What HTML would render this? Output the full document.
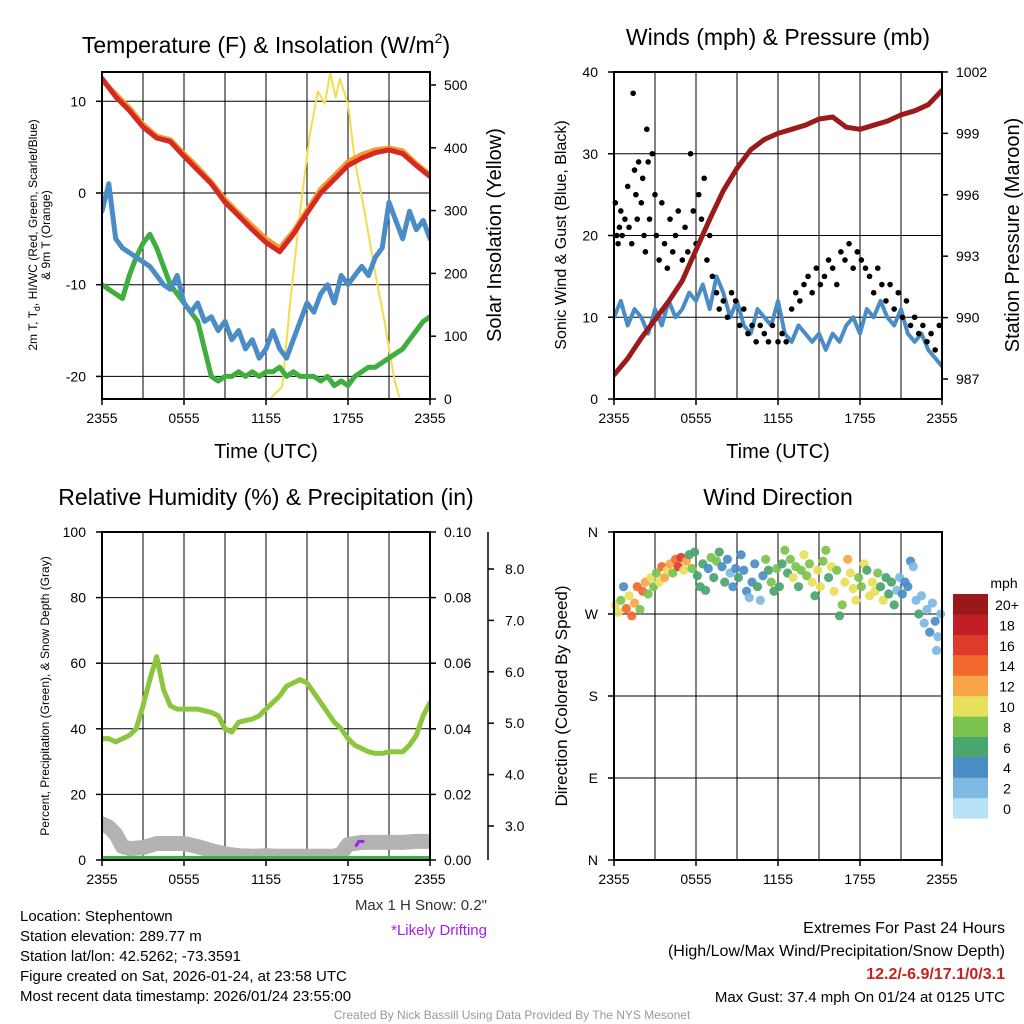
<!DOCTYPE html>
<html><head><meta charset="utf-8"><style>
html,body{margin:0;padding:0;background:#fff;}
svg{display:block;font-family:"Liberation Sans",sans-serif;}
</style></head><body>
<svg id="fig" width="1024" height="1024" viewBox="0 0 1024 1024" xmlns="http://www.w3.org/2000/svg">
<rect width="1024" height="1024" fill="#fff"/>
<g id="grid"></g>
<g id="marks"></g>
<g id="axes" fill="#000"></g>
<g text-anchor="middle" fill="#000">
<text x="266" y="53" font-size="23">Temperature (F) &amp; Insolation (W/m<tspan font-size="14" dy="-10">2</tspan><tspan dy="10">)</tspan></text>
<text x="778" y="45" font-size="23">Winds (mph) &amp; Pressure (mb)</text>
<text x="266" y="505" font-size="23">Relative Humidity (%) &amp; Precipitation (in)</text>
<text x="778" y="505" font-size="23">Wind Direction</text>
<text x="266" y="458" font-size="20">Time (UTC)</text>
<text x="778" y="458" font-size="20">Time (UTC)</text>
<text transform="translate(37,235) rotate(-90)" font-size="12">2m T, T<tspan font-size="9" dy="3">d</tspan><tspan dy="-3">, HI/WC (Red, Green, Scarlet/Blue)</tspan></text>
<text transform="translate(50,235) rotate(-90)" font-size="12">&amp; 9m T (Orange)</text>
<text transform="translate(501,235) rotate(-90)" font-size="20">Solar Insolation (Yellow)</text>
<text transform="translate(566,235) rotate(-90)" font-size="16">Sonic Wind &amp; Gust (Blue, Black)</text>
<text transform="translate(1019,235) rotate(-90)" font-size="20">Station Pressure (Maroon)</text>
<text transform="translate(49,696) rotate(-90)" font-size="12">Percent, Precipitation (Green), &amp; Snow Depth (Gray)</text>
<text transform="translate(567,696) rotate(-90)" font-size="17">Direction (Colored By Speed)</text>
</g>
<g font-size="15" fill="#000">
<text x="20" y="921">Location: Stephentown</text>
<text x="20" y="941">Station elevation: 289.77 m</text>
<text x="20" y="961">Station lat/lon: 42.5262; -73.3591</text>
<text x="20" y="981">Figure created on Sat, 2026-01-24, at 23:58 UTC</text>
<text x="20" y="1001">Most recent data timestamp: 2026/01/24 23:55:00</text>
</g>
<g font-size="15" text-anchor="end">
<text x="487" y="910" fill="#333">Max 1 H Snow: 0.2"</text>
<text x="487" y="935" fill="#a020f0">*Likely Drifting</text>
</g>
<g font-size="16" text-anchor="end" fill="#000">
<text x="1005" y="933">Extremes For Past 24 Hours</text>
<text x="1005" y="956">(High/Low/Max Wind/Precipitation/Snow Depth)</text>
<text x="1005" y="979" fill="#c8201f" font-weight="bold">12.2/-6.9/17.1/0/3.1</text>
<text x="1005" y="1002" font-size="15">Max Gust: 37.4 mph On 01/24 at 0125 UTC</text>
</g>
<text x="512" y="1019" text-anchor="middle" font-size="12" fill="#999">Created By Nick Bassill Using Data Provided By The NYS Mesonet</text>
</svg>
<script>
// ---- data (hours since 2355 UTC) ----
const timeTickLabels = ["2355","0555","1155","1755","2355"];
const tempTicks = [10,0,-10,-20];
const solarTicks = [0,100,200,300,400,500];
const windTicks = [0,10,20,30,40];
const pressTicks = [987,990,993,996,999,1002];
const rhTicks = [0,20,40,60,80,100];
const precipTicks = [0,0.02,0.04,0.06,0.08,0.10];
const snowTicks = [3,4,5,6,7,8];
const dirTickLabels = ["N","E","S","W","N"];
const dirTickValues = [0,90,180,270,360];
const speedBins = ["0","2","4","6","8","10","12","14","16","18","20+"];
const speedColors = ["#b8e3f6","#7db9e3","#4a8cc6","#4aa56e","#7cc24e","#e7e05a","#f8a547","#f2692e","#e03a2a","#c01f25","#9a181c"];

const tempHourly = [12.5,10.5,9,7.2,6,5.6,4,2.5,1,-1,-2.5,-4,-5.4,-6.4,-4.5,-2.2,0,1.5,3,3.8,4.4,4.7,4.3,3,1.8];
const temp9mHourly = [12.3,10.8,9.3,7.5,6.2,5.8,4.3,2.8,1.2,-0.7,-2.2,-3.6,-5,-6,-4.2,-1.9,0.4,1.9,3.4,4.2,4.7,4.9,4.6,3.2,2.0];
const dewHalf = [-10,-10.5,-11,-11.5,-9,-7,-5.5,-4.5,-6,-8,-10,-11,-12,-13,-14,-17,-20,-20.5,-20,-20,-19.5,-20,-19.5,-20,-19.5,-19.5,-19,-20,-19.5,-20,-20,-20,-20.5,-20,-21,-20.5,-21,-20,-19.5,-19,-19,-18.5,-18,-17.5,-17,-16,-15,-14,-13.5];
const windChillHalf = [-2,1,-5,-6,-6.5,-7,-7.5,-8,-9,-10,-10.5,-9,-12,-13,-12,-14,-13.5,-15,-14,-16,-15,-17,-16,-18,-17,-15,-17,-18,-16,-14,-12,-13,-11,-10,-12,-9,-10,-9,-8,-9,-7,-6,-1,-3,-5,-2,-4,-3,-5];
const solarTimes = [0,12.3,13.2,13.75,14.5,15.2,15.8,16.3,16.7,17.1,17.4,18,18.5,19.2,20,20.7,21.4,21.8,24];
const solarValues = [0,0,20,150,300,420,490,470,520,480,510,470,380,300,200,120,30,0,0];

const pressureHourly = [987.2,988,989,989.9,990.8,991.8,993.3,994.8,996.2,997.3,998.2,998.7,999,999.2,999.4,999.7,999.8,999.3,999.2,999.4,999.6,999.9,1000.1,1000.4,1001.1];
const windHalf = [10,12,9,11,10,8,11,9,12,10,11,13,12,14,11,15,13,10,12,9,8,11,10,9,12,8,7,9,8,7,8,6,8,7,9,10,8,11,10,12,10,9,11,8,7,8,6,5,4];
const gustTimes = [0.1,0.2,0.3,0.4,0.5,0.6,0.8,1.0,1.1,1.3,1.4,1.5,1.6,1.7,1.8,2.0,2.1,2.2,2.3,2.4,2.5,2.6,2.8,3.0,3.1,3.3,3.5,3.7,3.9,4.1,4.3,4.5,4.7,5.0,5.2,5.4,5.6,5.8,6.0,6.2,6.4,6.6,6.8,7.0,7.2,7.5,7.7,8.0,8.3,8.6,8.9,9.2,9.5,9.8,10.1,10.4,10.7,11.0,11.3,11.6,12.0,12.3,12.6,13.0,13.3,13.6,13.9,14.2,14.5,14.8,15.1,15.4,15.7,16.0,16.3,16.6,16.9,17.2,17.5,17.8,18.1,18.4,18.7,19.0,19.3,19.6,19.9,20.2,20.5,20.8,21.1,21.4,21.7,22.0,22.3,22.6,22.9,23.2,23.5,23.8];
const gustValues = [24,20,19,21,23,20,22,26,21,19,37.4,28,25,22,29,24,27,20,18,33,29,22,30,25,20,17,24,19,16,22,18,20,23,17,21,18,30,23,19,25,22,27,17,20,15,13,11,12,10,13,12,9,11,8,9,7,9,8,7,9,7,8,7,11,13,12,14,15,13,16,14,15,17,16,14,18,17,19,16,18,17,16,15,13,16,14,12,14,11,13,10,12,9,10,8,9,7,8,6,9];

const rhHalf = [37,37,36,37,38,40,47,55,62,52,47,46,46,46,46,45.5,45,44,40,39,42,42.5,43,44,46,48,50,53,54,55,54,51,48,45,42,40,37,35,34,33,32.5,32.5,33,33,33,35,38,44,48];
const precipHalf = [0,0,0,0,0,0,0,0,0,0,0,0,0,0,0,0,0,0,0,0,0,0,0,0,0,0,0,0,0,0,0,0,0,0,0,0,0,0,0,0,0,0,0,0,0,0,0,0,0];
const snowTimes = [0,0.5,1,1.5,2,3,4,5,6,7,8,9,10,11,12,13,14,15,16,17,17.5,18,19,20,21,22,23,24];
const snowDepth = [3.04,2.98,2.84,2.6,2.56,2.58,2.66,2.66,2.66,2.6,2.52,2.46,2.42,2.41,2.42,2.41,2.41,2.41,2.41,2.41,2.46,2.64,2.68,2.68,2.68,2.68,2.7,2.7];
const driftTimes = [18.6,18.8,19.1];
const driftDepth = [2.62,2.7,2.7];

const dirTimes = [0.1,0.3,0.5,0.7,0.9,1.1,1.3,1.5,1.7,1.9,2.1,2.3,2.5,2.7,2.9,3.1,3.3,3.5,3.7,3.9,4.1,4.3,4.5,4.7,4.9,5.1,5.3,5.5,5.7,5.9,6.1,6.3,6.5,6.7,6.9,7.1,7.3,7.5,7.7,7.9,8.1,8.3,8.5,8.7,8.9,9.1,9.3,9.5,9.7,9.9,10.1,10.3,10.5,10.7,10.9,11.1,11.3,11.5,11.7,11.9,12.1,12.3,12.5,12.7,12.9,13.1,13.3,13.5,13.7,13.9,14.1,14.3,14.5,14.7,14.9,15.1,15.3,15.5,15.7,15.9,16.1,16.3,16.5,16.7,16.9,17.1,17.3,17.5,17.7,17.9,18.1,18.3,18.5,18.7,18.9,19.1,19.3,19.5,19.7,19.9,20.1,20.3,20.5,20.7,20.9,21.1,21.3,21.5,21.7,21.9,22.1,22.3,22.5,22.7,22.9,23.1,23.3,23.5,23.7,23.9,23.6];
const dirValues = [280,272,285,300,276,290,268,282,300,275,295,305,292,310,300,315,305,322,310,318,325,315,330,322,332,318,328,335,320,338,312,300,325,296,320,332,310,328,338,322,305,330,315,300,320,310,335,318,295,288,305,325,300,285,312,330,318,305,295,320,300,325,340,315,330,310,322,300,318,335,312,325,305,290,318,300,328,340,310,322,295,318,268,280,305,330,315,298,285,310,300,325,318,290,305,295,315,300,285,310,292,305,280,296,310,292,305,300,328,322,285,270,290,260,275,250,282,262,245,270,230];
const dirSpeeds = [11,10,8,4,14,10,14,12,15,9,14,12,8,10,9,8,11,15,12,10,12,8,14,16,17,10,12,7,9,6,7,6,6,6,4,8,7,8,6,5,6,4,3,4,4,6,4,5,4,3,4,4,6,2,4,8,6,8,6,8,7,6,8,7,8,10,9,7,8,10,8,9,11,6,10,11,8,9,7,10,10,8,7,8,11,12,10,10,10,9,8,11,6,10,11,10,8,6,10,6,7,6,6,2,3,4,4,4,4,3,2,6,3,3,2,4,2,4,3,2,2];

// ---- geometry ----
const NS = "http://www.w3.org/2000/svg";
const P1={x0:102,x1:430,y0:72,y1:399}, P2={x0:614,x1:942,y0:72,y1:399}, P3={x0:102,x1:430,y0:532,y1:860}, P4={x0:614,x1:942,y0:532,y1:860};
const tx = (P,t)=>P.x0 + t/24*(P.x1-P.x0);
const yTemp=v=>193-v*9.17, ySolar=v=>399-v*0.628, yWind=v=>399-v*8.175, yPress=p=>379-(p-987)*20.47;
const yRH=v=>860-v*3.28, yPrecip=v=>860-v*3280, ySnow=d=>826-(d-3)*51.4, yDir=d=>532+(360-d)*328/360;
const gGrid=document.getElementById('grid'), gMarks=document.getElementById('marks'), gAxes=document.getElementById('axes');
function el(tag,parent){const e=document.createElementNS(NS,tag);parent.appendChild(e);return e;}

[P1,P2,P3,P4].forEach((P,i)=>{
  const cp=el('clipPath',document.getElementById('fig'));cp.setAttribute('id','clip'+i);
  const r=el('rect',cp);r.setAttribute('x',P.x0);r.setAttribute('y',P.y0);r.setAttribute('width',P.x1-P.x0);r.setAttribute('height',P.y1-P.y0);
});

function line(P,ci,times,vals,ymap,color,w,name){
  const p=el('polyline',gMarks);
  
  
  p.setAttribute('points',times.map((t,i)=>tx(P,t).toFixed(1)+','+ymap(vals[i]).toFixed(1)).join(' '));
  p.setAttribute('fill','none');p.setAttribute('stroke',color);p.setAttribute('stroke-width',w);
  p.setAttribute('stroke-linejoin','round');p.setAttribute('stroke-linecap','round');
  p.setAttribute('clip-path','url(#clip'+ci+')');
}
const hours=tempHourly.map((_,i)=>i), halves=dewHalf.map((_,i)=>i/2);

[P1,P2,P3,P4].forEach((P,pi)=>{
  for(let k=1;k<8;k++){const x=P.x0+k*(P.x1-P.x0)/8;const l=el('line',gGrid);
    
    
    l.setAttribute('x1',x);l.setAttribute('x2',x);l.setAttribute('y1',P.y0);l.setAttribute('y2',P.y1);l.setAttribute('stroke','#000');l.setAttribute('stroke-width',1);}
});
function hgrid(P,y){const l=el('line',gGrid);
  
  
  l.setAttribute('x1',P.x0);l.setAttribute('x2',P.x1);l.setAttribute('y1',y);l.setAttribute('y2',y);l.setAttribute('stroke','#000');l.setAttribute('stroke-width',1);}
tempTicks.forEach(v=>hgrid(P1,yTemp(v)));
windTicks.forEach(v=>hgrid(P2,yWind(v)));
rhTicks.forEach(v=>hgrid(P3,yRH(v)));
dirTickValues.forEach(v=>hgrid(P4,yDir(v)));

line(P1,0,solarTimes,solarValues,ySolar,'#f5dc4a',2,'solar-insolation-line');
line(P1,0,halves,dewHalf,yTemp,'#3fae3f',5,'dewpoint-line');
line(P1,0,halves,windChillHalf,yTemp,'#4a8cc6',5,'wind-chill-line');
line(P1,0,hours,temp9mHourly,yTemp,'#f39a2e',5,'temp-9m-line');
line(P1,0,hours,tempHourly,yTemp,'#d42a22',5,'temp-2m-line');

line(P2,1,halves,windHalf,yWind,'#4a8cc6',4,'sonic-wind-line');
gustTimes.forEach((t,i)=>{const c=el('circle',gMarks);
  
  
  c.setAttribute('cx',tx(P2,t));c.setAttribute('cy',yWind(gustValues[i]));c.setAttribute('r',2.8);c.setAttribute('fill','#000');});
line(P2,1,hours,pressureHourly,yPress,'#9b1b1b',5,'pressure-line');

line(P3,2,snowTimes,snowDepth,ySnow,'#b3b3b3',15,'snow-depth-line');
line(P3,2,driftTimes,driftDepth,ySnow,'#a020f0',3,'drifting-segment');
line(P3,2,halves,precipHalf,yPrecip,'#3fae3f',8,'precipitation-line');
line(P3,2,halves,rhHalf,yRH,'#8cc63f',5,'relative-humidity-line');

dirTimes.forEach((t,i)=>{const c=el('circle',gMarks);
  
  
  const idx=Math.min(10,Math.floor(dirSpeeds[i]/2));
  c.setAttribute('cx',tx(P4,t));c.setAttribute('cy',yDir(dirValues[i]));c.setAttribute('r',4.6);c.setAttribute('fill',speedColors[idx]);c.setAttribute('fill-opacity',0.92);});

function seg(x1,y1,x2,y2,name,w){const l=el('line',gAxes);
  
  
  l.setAttribute('x1',x1);l.setAttribute('y1',y1);l.setAttribute('x2',x2);l.setAttribute('y2',y2);l.setAttribute('stroke','#000');l.setAttribute('stroke-width',w||1.5);}
function txt(x,y,s,anchor,size,name){const t=el('text',gAxes);
  
  
  t.setAttribute('x',x);t.setAttribute('y',y);t.setAttribute('text-anchor',anchor);t.setAttribute('font-size',size||14);t.textContent=s;}
[P1,P2,P3,P4].forEach(P=>{
  const r=el('rect',gAxes);
  
  
  r.setAttribute('x',P.x0);r.setAttribute('y',P.y0);r.setAttribute('width',P.x1-P.x0);r.setAttribute('height',P.y1-P.y0);r.setAttribute('fill','none');r.setAttribute('stroke','#000');r.setAttribute('stroke-width',2);
  timeTickLabels.forEach((s,i)=>{const x=P.x0+i*(P.x1-P.x0)/4;seg(x,P.y1,x,P.y1+6,'x-tick');txt(x,P.y1+24,s,'middle',14,'x-tick-label');});
});
tempTicks.forEach(v=>{const y=yTemp(v);seg(P1.x0-6,y,P1.x0,y,'y-tick');txt(P1.x0-16,y+5,String(v),'end',14,'temp-tick-label');});
solarTicks.forEach(v=>{const y=ySolar(v);seg(P1.x1,y,P1.x1+6,y,'y-tick');txt(P1.x1+14,y+5,String(v),'start',14,'solar-tick-label');});
windTicks.forEach(v=>{const y=yWind(v);seg(P2.x0-6,y,P2.x0,y,'y-tick');txt(P2.x0-16,y+5,String(v),'end',14,'wind-tick-label');});
pressTicks.forEach(v=>{const y=yPress(v);seg(P2.x1,y,P2.x1+6,y,'y-tick');txt(P2.x1+14,y+5,String(v),'start',14,'pressure-tick-label');});
rhTicks.forEach(v=>{const y=yRH(v);seg(P3.x0-6,y,P3.x0,y,'y-tick');txt(P3.x0-16,y+5,String(v),'end',14,'rh-tick-label');});
precipTicks.forEach(v=>{const y=yPrecip(v);seg(P3.x1,y,P3.x1+6,y,'y-tick');txt(P3.x1+14,y+5,v.toFixed(2),'start',14,'precip-tick-label');});
seg(488,P3.y0,488,P3.y1,'snow-depth-axis',1.5);
snowTicks.forEach(v=>{const y=ySnow(v);seg(488,y,494,y,'y-tick');txt(505,y+5,v.toFixed(1),'start',14,'snow-tick-label');});
dirTickValues.forEach((v,i)=>{const y=yDir(v);seg(P4.x0-6,y,P4.x0,y,'y-tick');txt(P4.x0-16,y+5,dirTickLabels[i],'end',14,'direction-tick-label');});
txt(1004,588,'mph','middle',14,'colorbar-title');
speedBins.forEach((s,i)=>{const y=594+(10-i)*20.4;const r=el('rect',gAxes);
  
  
  r.setAttribute('x',953);r.setAttribute('y',y);r.setAttribute('width',35);r.setAttribute('height',20.6);r.setAttribute('fill',speedColors[i]);
  txt(1007,y+16,s,'middle',14,'colorbar-label');});
</script>
</body></html>
